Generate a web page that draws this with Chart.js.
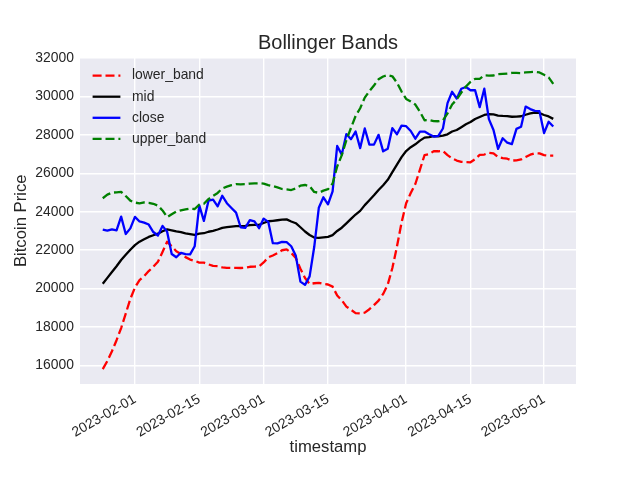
<!DOCTYPE html>
<html>
<head>
<meta charset="utf-8">
<script src="https://cdn.jsdelivr.net/npm/chart.js@4.4.0/dist/chart.umd.min.js"></script>
<style>
html,body{margin:0;padding:0;background:#ffffff;}
#wrap{width:640px;height:480px;}
</style>
</head>
<body>
<div id="wrap"><canvas id="c" width="640" height="480"></canvas></div>
<script>
// ---- data ----
const dates = [
"2023-01-25","2023-01-26","2023-01-27","2023-01-28","2023-01-29","2023-01-30","2023-01-31",
"2023-02-01","2023-02-02","2023-02-03","2023-02-04","2023-02-05","2023-02-06","2023-02-07","2023-02-08","2023-02-09","2023-02-10",
"2023-02-11","2023-02-12","2023-02-13","2023-02-14","2023-02-15","2023-02-16","2023-02-17","2023-02-18","2023-02-19","2023-02-20",
"2023-02-21","2023-02-22","2023-02-23","2023-02-24","2023-02-25","2023-02-26","2023-02-27","2023-02-28",
"2023-03-01","2023-03-02","2023-03-03","2023-03-04","2023-03-05","2023-03-06","2023-03-07","2023-03-08","2023-03-09","2023-03-10",
"2023-03-11","2023-03-12","2023-03-13","2023-03-14","2023-03-15","2023-03-16","2023-03-17","2023-03-18","2023-03-19","2023-03-20",
"2023-03-21","2023-03-22","2023-03-23","2023-03-24","2023-03-25","2023-03-26","2023-03-27","2023-03-28","2023-03-29","2023-03-30","2023-03-31",
"2023-04-01","2023-04-02","2023-04-03","2023-04-04","2023-04-05","2023-04-06","2023-04-07","2023-04-08","2023-04-09","2023-04-10",
"2023-04-11","2023-04-12","2023-04-13","2023-04-14","2023-04-15","2023-04-16","2023-04-17","2023-04-18","2023-04-19","2023-04-20",
"2023-04-21","2023-04-22","2023-04-23","2023-04-24","2023-04-25","2023-04-26","2023-04-27","2023-04-28","2023-04-29","2023-04-30",
"2023-05-01","2023-05-02","2023-05-03"
];

const closePrice = [
23060,23010,23080,23030,23740,22840,23130,
23730,23490,23430,23330,22940,22760,23260,22960,21800,21630,
21860,21790,21780,22200,24330,23520,24570,24630,24280,24830,
24440,24190,23950,23190,23160,23560,23490,23140,
23640,23470,22360,22350,22430,22410,22200,21700,20360,20190,
20630,22160,24200,24750,24380,25060,27420,26970,28040,27770,
28170,27310,28330,27490,27490,28000,27140,27270,28350,28030,28480,
28450,28200,27800,28170,28170,28030,27910,27950,28330,29650,
30240,29890,30400,30490,30320,30320,29440,30400,28820,28250,
27270,27820,27590,27520,28310,28420,29470,29340,29250,29230,
28090,28680,28430
];

const midBand = [
20252,20556,20863,21158,21486,21756,22016,22260,22438,22562,
22685,22773,22853,22982,23076,23032,22974,22932,22875,22833,
22790,22856,22878,22955,22999,23071,23156,23192,23227,23253,
23246,23257,23297,23308,23317,23409,23501,23526,23554,23587,
23597,23491,23400,23189,22967,22785,22651,22639,22667,22689,
22782,22995,23166,23393,23625,23851,24043,24342,24599,24852,
25131,25378,25657,26056,26448,26841,27155,27355,27508,27697,
27853,27883,27930,27926,27954,28028,28174,28252,28398,28548,
28664,28823,28931,29034,29073,29062,29003,28984,28973,28941,
28948,28967,29045,29115,29161,29140,29032,28960,28830
];

const upperBand = [
24698,24885,24989,25007,25029,24814,24575,24472,24434,24480,
24463,24412,24316,24064,23718,23868,24006,24069,24116,24160,
24140,24363,24410,24655,24822,24975,25209,25307,25383,25431,
25424,25431,25462,25474,25479,25459,25381,25330,25264,25182,
25158,25126,25212,25352,25389,25330,25028,24982,25095,25169,
25464,26354,26943,27727,28357,28981,29385,29936,30275,30570,
30890,31036,31108,31047,30714,30252,29871,29740,29576,29202,
28760,28771,28713,28708,28751,29114,29578,29843,30201,30516,
30759,30914,30910,31093,31083,31088,31162,31177,31190,31223,
31221,31215,31248,31263,31279,31246,31122,30990,30650
];

const lowerBand = [
15807,16227,16737,17309,17943,18698,19457,20048,20442,20644,
20907,21134,21390,21900,22434,22196,21942,21795,21634,21506,
21440,21349,21346,21255,21176,21167,21103,21077,21071,21075,
21068,21083,21132,21142,21155,21359,21621,21722,21844,21992,
22036,21856,21588,21026,20545,20240,20274,20296,20239,20209,
20100,19636,19389,19059,18893,18721,18701,18748,18923,19134,
19372,19720,20206,21065,22182,23430,24439,24970,25440,26192,
26946,26995,27147,27144,27157,26942,26770,26661,26595,26580,
26569,26732,26952,26975,27063,27036,26844,26791,26756,26659,
26675,26719,26842,26967,27043,27034,26942,26916,26915
];

const xTickLabels = ["2023-02-01","2023-02-15","2023-03-01","2023-03-15","2023-04-01","2023-04-15","2023-05-01"];
const yTickValues = [16000,18000,20000,22000,24000,26000,28000,30000,32000];

// ---- helpers ----
const DAY_MS = 86400000;
const T0 = Date.UTC(2023, 0, 25);
function dayOf(s) {
  const p = s.split('-').map(Number);
  return (Date.UTC(p[0], p[1] - 1, p[2]) - T0) / DAY_MS;
}
const xs = dates.map(dayOf);
const toPoints = arr => arr.map((v, i) => ({x: xs[i], y: v}));

const FONT = "'Liberation Sans', Arial, Helvetica, sans-serif";
const TXT = '#262626';
const DASH = [9, 3.9];
const LW = 2.3;

const bgPlugin = {
  id: 'bgPlugin',
  beforeDraw(chart) {
    const {ctx, chartArea: a} = chart;
    ctx.save();
    ctx.fillStyle = '#ffffff';
    ctx.fillRect(0, 0, chart.width, chart.height);
    ctx.fillStyle = '#EAEAF2';
    ctx.fillRect(a.left, a.top, a.right - a.left, a.bottom - a.top);
    ctx.restore();
  }
};

const titlePlugin = {
  id: 'titlePlugin',
  afterDraw(chart) {
    const {ctx, chartArea: a} = chart;
    ctx.save();
    ctx.fillStyle = TXT;
    ctx.font = "20px " + FONT;
    ctx.textAlign = 'center';
    ctx.textBaseline = 'alphabetic';
    ctx.fillText('Bollinger Bands', (a.left + a.right) / 2, 49);
    ctx.restore();
  }
};

const legendPlugin = {
  id: 'legendPlugin',
  afterDatasetsDraw(chart) {
    const {ctx, chartArea: a} = chart;
    ctx.save();
    ctx.font = "13.9px " + FONT;
    ctx.textBaseline = 'middle';
    ctx.textAlign = 'left';
    chart.data.datasets.forEach((ds, i) => {
      const y = a.top + 18 + i * 21.1;
      const x0 = a.left + 12.6;
      ctx.beginPath();
      ctx.strokeStyle = ds.borderColor;
      ctx.lineWidth = LW;
      ctx.lineCap = 'butt';
      ctx.setLineDash(ds.borderDash || []);
      ctx.moveTo(x0, y);
      ctx.lineTo(x0 + 27.8, y);
      ctx.stroke();
      ctx.setLineDash([]);
      ctx.fillStyle = TXT;
      ctx.fillText(ds.label, x0 + 39.4, y);
    });
    ctx.restore();
  }
};

const ctx = document.getElementById('c').getContext('2d');
new Chart(ctx, {
  type: 'line',
  data: {
    datasets: [
      {label: 'lower_band', data: toPoints(lowerBand), borderColor: '#ff0000', borderDash: DASH, order: 3},
      {label: 'mid', data: toPoints(midBand), borderColor: '#000000', order: 2},
      {label: 'close', data: toPoints(closePrice), borderColor: '#0000ff', order: 1},
      {label: 'upper_band', data: toPoints(upperBand), borderColor: '#008000', borderDash: DASH, order: 0}
    ].map(d => Object.assign({
      borderWidth: LW, pointRadius: 0, pointHoverRadius: 0, tension: 0,
      fill: false, borderJoinStyle: 'round', borderCapStyle: 'butt', backgroundColor: d.borderColor
    }, d))
  },
  options: {
    responsive: false,
    devicePixelRatio: 1,
    animation: false,
    events: [],
    layout: {padding: {top: 57.6, right: 64, bottom: 0, left: 0}},
    plugins: {
      legend: {display: false},
      title: {display: false},
      tooltip: {enabled: false}
    },
    scales: {
      x: {
        type: 'linear',
        min: -4.95,
        max: 102.95,
        border: {display: false},
        grid: {color: '#ffffff', lineWidth: 1.4, drawTicks: false},
        afterBuildTicks: axis => { axis.ticks = xTickLabels.map(s => ({value: dayOf(s)})); },
        afterFit: axis => { axis.height = 96; },
        ticks: {
          autoSkip: false,
          minRotation: 30,
          maxRotation: 30,
          padding: 7,
          color: TXT,
          font: {family: FONT, size: 13.9},
          callback: (v, i) => xTickLabels[i]
        },
        title: {
          display: true,
          text: 'timestamp',
          color: TXT,
          font: {family: FONT, size: 16.67},
          padding: {top: 0, bottom: 23}
        }
      },
      y: {
        type: 'linear',
        min: 15030,
        max: 32020,
        border: {display: false},
        grid: {color: '#ffffff', lineWidth: 1.4, drawTicks: false},
        afterBuildTicks: axis => { axis.ticks = yTickValues.map(v => ({value: v})); },
        afterFit: axis => { axis.width = 80; },
        ticks: {
          padding: 6,
          color: TXT,
          font: {family: FONT, size: 13.9},
          callback: v => String(v)
        },
        title: {
          display: true,
          text: 'Bitcoin Price',
          color: TXT,
          font: {family: FONT, size: 16.67},
          padding: {top: 11, bottom: 0}
        }
      }
    }
  },
  plugins: [bgPlugin, titlePlugin, legendPlugin]
});
</script>
</body>
</html>
